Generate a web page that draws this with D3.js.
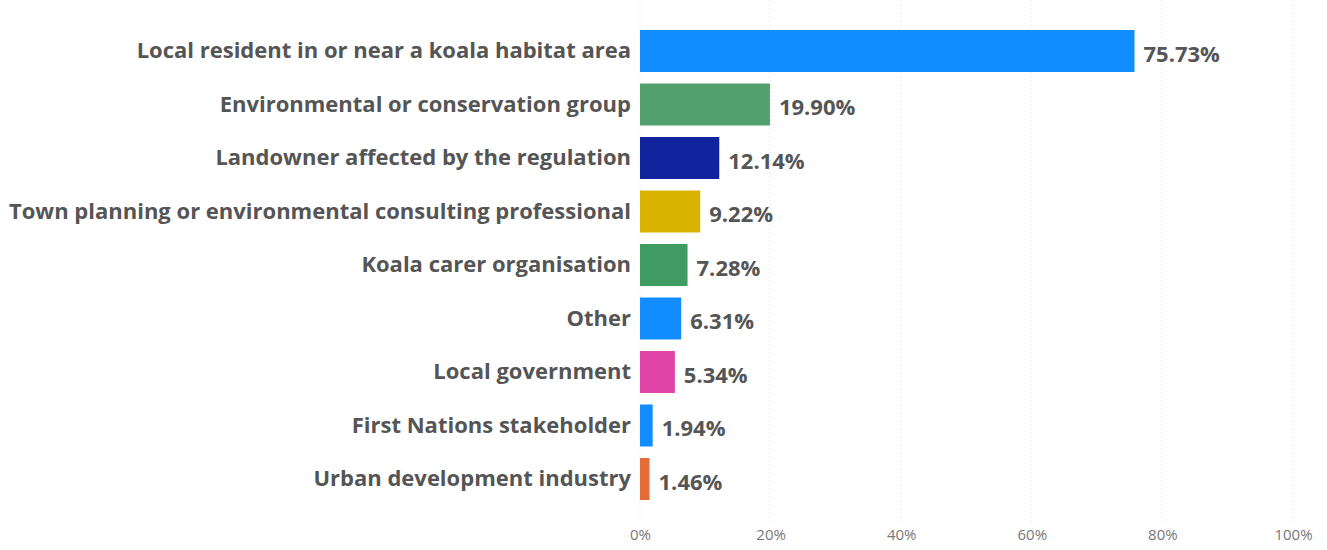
<!DOCTYPE html>
<html>
<head>
<meta charset="utf-8">
<script src="https://cdn.jsdelivr.net/npm/d3@7"></script>
<style>
  html, body { margin: 0; padding: 0; background: #fff; }
  svg { display: block; }
</style>
</head>
<body>
<svg id="chart" width="1327" height="550"></svg>
<script>
// Respondent groups and their share of responses (%)
const categories = [
  "Local resident in or near a koala habitat area",
  "Environmental or conservation group",
  "Landowner affected by the regulation",
  "Town planning or environmental consulting professional",
  "Koala carer organisation",
  "Other",
  "Local government",
  "First Nations stakeholder",
  "Urban development industry"
];
const values = [75.73, 19.90, 12.14, 9.22, 7.28, 6.31, 5.34, 1.94, 1.46];
const barColors = ["#118DFF", "#52A06E", "#12239E", "#D9B300", "#3F9B62", "#118DFF", "#E044A7", "#118DFF", "#E66C37"];
const xTicks = [0, 20, 40, 60, 80, 100];

const svg = d3.select("#chart");
const plot = { left: 640, right: 1293, top: 30, bottom: 500 };

const x = d3.scaleLinear().domain([0, 100]).range([plot.left, plot.right]);
const y = d3.scaleBand().domain(categories).range([plot.top, plot.bottom]).paddingInner(0.215).paddingOuter(0);

// dotted vertical gridlines
svg.append("g")
  .selectAll("line")
  .data(xTicks)
  .join("line")
  .attr("x1", d => x(d)).attr("x2", d => x(d))
  .attr("y1", 0).attr("y2", 522)
  .attr("stroke", "#e4e4e4")
  .attr("stroke-width", 1)
  .attr("stroke-dasharray", "1,3");

// x axis tick labels
const xAxis = d3.axisBottom(x).tickValues(xTicks).tickFormat(d => d + "%").tickSize(0).tickPadding(0);
const gx = svg.append("g").attr("transform", "translate(0,529)").call(xAxis);
gx.select(".domain").remove();
gx.selectAll("text")
  .attr("fill", "#777")
  .style("font-family", "'Open Sans', sans-serif")
  .style("font-size", "15px");

// bars
svg.append("g")
  .selectAll("rect")
  .data(values)
  .join("rect")
  .attr("x", x(0))
  .attr("y", (d, i) => y(categories[i]))
  .attr("width", d => x(d) - x(0))
  .attr("height", y.bandwidth())
  .attr("fill", (d, i) => barColors[i]);

// category labels
const yAxis = d3.axisLeft(y).tickSize(0).tickPadding(9);
const gy = svg.append("g").attr("transform", `translate(${plot.left},0)`).call(yAxis);
gy.select(".domain").remove();
gy.selectAll("text")
  .attr("fill", "#555")
  .style("font-family", "'Open Sans', sans-serif")
  .style("font-weight", "700")
  .style("font-size", "22px");

// value labels
svg.append("g")
  .selectAll("text")
  .data(values)
  .join("text")
  .attr("x", d => x(d) + 9)
  .attr("y", (d, i) => y(categories[i]) + y.bandwidth() / 2 + 3)
  .attr("dy", "0.35em")
  .attr("fill", "#555")
  .style("font-family", "'Open Sans', sans-serif")
  .style("font-weight", "700")
  .style("font-size", "22px")
  .text(d => d.toFixed(2) + "%");
</script>
</body>
</html>
